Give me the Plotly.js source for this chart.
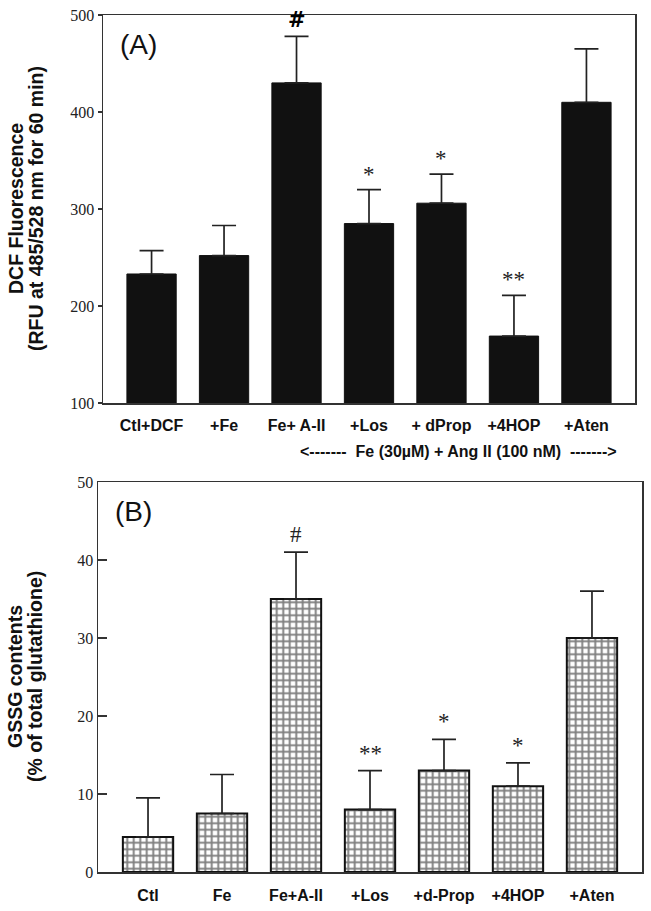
<!DOCTYPE html>
<html>
<head>
<meta charset="utf-8">
<script src="https://cdn.plot.ly/plotly-3.0.1.min.js"></script>
<style>
  html, body { margin: 0; padding: 0; background: #fff; }
  #chart { width: 651px; height: 911px; }
</style>
</head>
<body>
<div id="chart"></div>
<script>
// panel A - DCF fluorescence
const catsA = ['Ctl+DCF', '+Fe', 'Fe+ A-II', '+Los', '+ dProp', '+4HOP', '+Aten'];
const valsA = [233, 252, 430, 285, 306, 169, 410];
const errA = [24, 31, 48, 35, 30, 42, 55];
const markA = ['', '', '#', '*', '*', '**', ''];

// panel B - GSSG contents
const catsB = ['Ctl', 'Fe', 'Fe+A-II', '+Los', '+d-Prop', '+4HOP', '+Aten'];
const valsB = [4.5, 7.5, 35, 8, 13, 11, 30];
const errB = [5, 5, 6, 5, 4, 3, 6];
const markB = ['', '', '#', '**', '*', '*', ''];

const ticksA = [100, 200, 300, 400, 500];
const ticksB = [0, 10, 20, 30, 40, 50];

const sans = 'Liberation Sans, Arial, sans-serif';
const serif = 'Liberation Serif, Times New Roman, serif';
const W = 651, H = 911;

let zeros = n => new Array(n).fill(0);

let traceA = {
    type: 'bar',
    x: catsA,
    y: valsA,
    xaxis: 'x', yaxis: 'y',
    width: 0.68,
    marker: { color: '#111', line: { color: '#111', width: 1 } },
    error_y: {
        type: 'data', symmetric: false, array: errA, arrayminus: zeros(errA.length),
        color: '#222', thickness: 1.7, width: 12
    },
    hoverinfo: 'skip'
};

let traceB = {
    type: 'bar',
    x: catsB,
    y: valsB,
    xaxis: 'x2', yaxis: 'y2',
    width: 0.68,
    marker: {
        color: '#ffffff',
        line: { color: '#111', width: 2 },
        pattern: { shape: '+', size: 6.5, solidity: 0.5, fgcolor: '#000', bgcolor: '#ffffff', fillmode: 'overlay' }
    },
    error_y: {
        type: 'data', symmetric: false, array: errB, arrayminus: zeros(errB.length),
        color: '#222', thickness: 1.7, width: 12
    },
    hoverinfo: 'skip'
};

let annotations = [];

// significance marks above the error bars
for (let i = 0; i < catsA.length; i++) {
    if (!markA[i]) continue;
    let isHash = markA[i] == '#';
    annotations.push({
        xref: 'x', yref: 'y', x: catsA[i], y: valsA[i] + errA[i],
        text: isHash ? '<b>#</b>' : markA[i], showarrow: false, yanchor: 'bottom',
        yshift: isHash ? 2 : 1,
        font: isHash
            ? { family: 'DejaVu Sans, sans-serif', size: 21, color: '#000' }
            : { family: serif, size: 23, color: '#222' }
    });
}
for (let i = 0; i < catsB.length; i++) {
    if (!markB[i]) continue;
    annotations.push({
        xref: 'x2', yref: 'y2', x: catsB[i], y: valsB[i] + errB[i],
        text: markB[i], showarrow: false, yanchor: 'bottom', yshift: 3,
        font: { family: serif, size: 23, color: '#222' }
    });
}

// panel labels
annotations.push({
    xref: 'paper', yref: 'paper', x: 138 / W, y: 1 - 44 / H,
    text: '(A)', showarrow: false, xanchor: 'center', yanchor: 'middle',
    font: { family: sans, size: 28, color: '#111' }
});
annotations.push({
    xref: 'paper', yref: 'paper', x: 133 / W, y: 1 - 511 / H,
    text: '(B)', showarrow: false, xanchor: 'center', yanchor: 'middle',
    font: { family: sans, size: 28, color: '#111' }
});

// treatment bracket text under panel A
annotations.push({
    xref: 'paper', yref: 'paper', x: 459 / W, y: 1 - 452 / H,
    text: '<b><-------  Fe (30µM) + Ang II (100 nM)  -------></b>', showarrow: false,
    xanchor: 'center', yanchor: 'middle',
    font: { family: sans, size: 16, color: '#111' }
});

// y titles, one line each
let ytitles = [
    ['DCF Fluorescence', 16, 209],
    ['(RFU at 485/528 nm for 60 min)', 36, 209],
    ['GSSG contents', 15, 677],
    ['(% of total glutathione)', 35, 677]
];
ytitles.forEach(t => {
    annotations.push({
        xref: 'paper', yref: 'paper', x: t[1] / W, y: 1 - t[2] / H,
        text: '<b>' + t[0] + '</b>', showarrow: false, textangle: -90,
        xanchor: 'center', yanchor: 'middle',
        font: { family: sans, size: 19.5, color: '#111' }
    });
});

let axisLine = { showline: true, linecolor: '#333', linewidth: 1.5, mirror: true, zeroline: false, showgrid: false };

let layout = {
    width: W, height: H,
    margin: { l: 0, r: 0, t: 0, b: 0 },
    paper_bgcolor: '#fff', plot_bgcolor: '#fff',
    showlegend: false,
    bargap: 0,
    xaxis: Object.assign({}, axisLine, {
        domain: [103 / W, 635 / W], anchor: 'y',
        type: 'category', range: [-0.67, 6.67],
        ticks: '', ticklabelstandoff: 7,
        tickfont: { family: sans, size: 16, color: '#111', weight: 'bold' }
    }),
    yaxis: Object.assign({}, axisLine, {
        domain: [1 - 403 / H, 1 - 15 / H], anchor: 'x',
        range: [100, 500], tickvals: ticksA, ticktext: ticksA.map(String),
        ticks: 'outside', ticklen: 4, tickcolor: '#333', tickwidth: 1.2,
        tickfont: { family: serif, size: 16, color: '#222' }
    }),
    xaxis2: Object.assign({}, axisLine, {
        domain: [98 / W, 642 / W], anchor: 'y2',
        type: 'category', range: [-0.676, 6.676],
        ticks: '', ticklabelstandoff: 8,
        tickfont: { family: sans, size: 16, color: '#111', weight: 'bold' }
    }),
    yaxis2: Object.assign({}, axisLine, {
        domain: [1 - 872 / H, 1 - 482 / H], anchor: 'x2',
        range: [0, 50], tickvals: ticksB, ticktext: ticksB.map(String),
        ticks: 'inside', ticklen: 9, tickcolor: '#333', tickwidth: 1.2,
        tickfont: { family: serif, size: 16, color: '#222' }
    }),
    annotations: annotations
};

Plotly.newPlot('chart', [traceA, traceB], layout, { staticPlot: true });
</script>
</body>
</html>
